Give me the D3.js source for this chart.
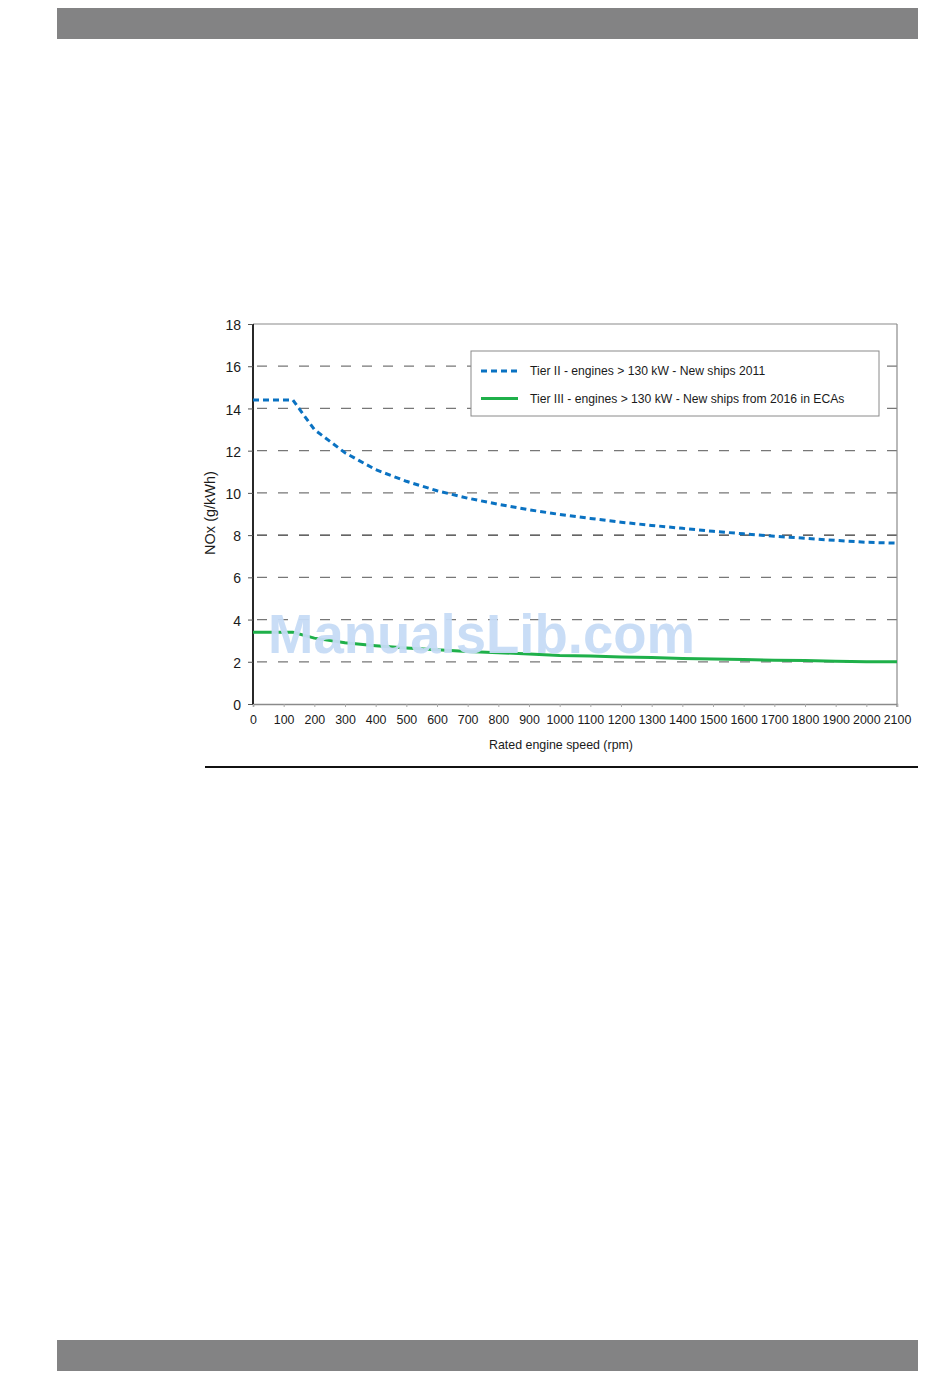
<!DOCTYPE html>
<html><head><meta charset="utf-8">
<script src="https://cdn.jsdelivr.net/npm/d3@7"></script>
<style>body{margin:0;background:#fff}svg{display:block}</style>
</head><body>
<svg id="c" width="950" height="1378"></svg>
<script>
// ---- data ----
const rpm = [0,130,200,300,400,500,600,700,800,900,1000,1100,1200,1300,1400,1500,1600,1700,1800,1900,2000,2100];
const tierII = [14.4,14.4,13.0,11.9,11.1,10.55,10.1,9.75,9.46,9.2,8.98,8.79,8.61,8.46,8.32,8.18,8.06,7.95,7.85,7.75,7.66,7.62];
const tierIII = [3.4,3.4,3.12,2.9,2.76,2.65,2.57,2.49,2.43,2.37,2.3,2.27,2.23,2.2,2.15,2.13,2.11,2.07,2.06,2.02,2.0,2.0];
const xTicks = [0,100,200,300,400,500,600,700,800,900,1000,1100,1200,1300,1400,1500,1600,1700,1800,1900,2000,2100];
const yTicks = [0,2,4,6,8,10,12,14,16,18];
const seriesNames = ["Tier II - engines > 130 kW - New ships 2011","Tier III - engines > 130 kW - New ships from 2016 in ECAs"];
const seriesColors = ["#0a72c2","#1fb04a"];

const svg = d3.select("#c");
const FONT = "Liberation Sans, Arial, sans-serif";

// page bars
svg.append("rect").attr("x",57).attr("y",8).attr("width",861).attr("height",31).attr("fill","#838384");
svg.append("rect").attr("x",57).attr("y",1340).attr("width",861).attr("height",31).attr("fill","#838384");

const x = d3.scaleLinear().domain([0,2100]).range([253,897]);
const y = d3.scaleLinear().domain([0,18]).range([704,324]);

// gridlines
svg.append("g").selectAll("line").data(yTicks.filter(v=>v>0 && v<18)).join("line")
  .attr("x1",x(0)).attr("x2",x(2100)).attr("y1",d=>y(d)).attr("y2",d=>y(d))
  .attr("stroke",d=>d===8?"#333":"#777").attr("stroke-width",1.3)
  .attr("stroke-dasharray","10,11").attr("stroke-dashoffset",-4);

// plot frame (top & right) gray
svg.append("line").attr("x1",x(0)).attr("x2",x(2100)).attr("y1",y(18)).attr("y2",y(18)).attr("stroke","#8a8a8a").attr("stroke-width",1.2);
svg.append("line").attr("x1",x(2100)).attr("x2",x(2100)).attr("y1",y(18)).attr("y2",y(0)+3).attr("stroke","#8a8a8a").attr("stroke-width",1.2);

// x axis
const xAxis = svg.append("g").attr("transform",`translate(0,${y(0)})`)
  .call(d3.axisBottom(x).tickValues(xTicks).tickSize(3).tickPadding(8).tickFormat(d3.format("d")));
xAxis.select(".domain").attr("stroke","#8a8a8a").attr("stroke-width",1.5);
xAxis.selectAll(".tick line").attr("stroke","#aaa");
xAxis.selectAll("text").attr("font-family",FONT).attr("font-size","12.4px").attr("fill","#1a1a1a");

// y axis
const yAxis = svg.append("g").attr("transform",`translate(${x(0)},0)`)
  .call(d3.axisLeft(y).tickValues(yTicks).tickSize(5).tickPadding(7).tickFormat(d3.format("d")));
yAxis.select(".domain").attr("stroke","#111").attr("stroke-width",1.8).attr("d",`M0,${y(18)}V${y(0)}`);
yAxis.selectAll(".tick line").attr("stroke","#555");
yAxis.selectAll("text").attr("font-family",FONT).attr("font-size","14px").attr("fill","#1a1a1a").attr("dy","0.4em");

// axis titles
svg.append("text").attr("transform",`translate(215,${513}) rotate(-90)`)
  .attr("text-anchor","middle").attr("font-family",FONT).attr("font-size","14.5px").attr("fill","#1a1a1a").text("NOx (g/kWh)");
svg.append("text").attr("x",561).attr("y",749).attr("text-anchor","middle")
  .attr("font-family",FONT).attr("font-size","12.4px").attr("fill","#1a1a1a").text("Rated engine speed (rpm)");

// lines
const line = d3.line().x((d,i)=>x(rpm[i])).y(d=>y(d));
svg.append("path").datum(tierIII).attr("d",line).attr("fill","none")
  .attr("stroke",seriesColors[1]).attr("stroke-width",3);
svg.append("path").datum(tierII).attr("d",line).attr("fill","none")
  .attr("stroke",seriesColors[0]).attr("stroke-width",3).attr("stroke-dasharray","6,4");

// legend
const lg = svg.append("g");
lg.append("rect").attr("x",471).attr("y",351).attr("width",408).attr("height",65)
  .attr("fill","#fff").attr("stroke","#8a8a8a").attr("stroke-width",1);
seriesNames.forEach((n,i)=>{
  const yy = 371 + i*27.5;
  lg.append("line").attr("x1",481).attr("x2",518).attr("y1",yy).attr("y2",yy)
    .attr("stroke",seriesColors[i]).attr("stroke-width",3)
    .attr("stroke-dasharray",i===0?"6,4":null);
  lg.append("text").attr("x",530).attr("y",yy+4).attr("font-family",FONT).attr("font-size","12.15px")
    .attr("fill","#1a1a1a").text(n);
});

// watermark
svg.append("text").attr("x",268).attr("y",653).attr("font-family",FONT).attr("font-weight","bold")
  .attr("font-size","55px").attr("fill","#c6dbf6").attr("fill-opacity",0.95)
  .attr("textLength",427).attr("lengthAdjust","spacingAndGlyphs").text("ManualsLib.com");

// horizontal rule
svg.append("line").attr("x1",205).attr("x2",918).attr("y1",767).attr("y2",767).attr("stroke","#111").attr("stroke-width",2);
</script>
</body></html>
